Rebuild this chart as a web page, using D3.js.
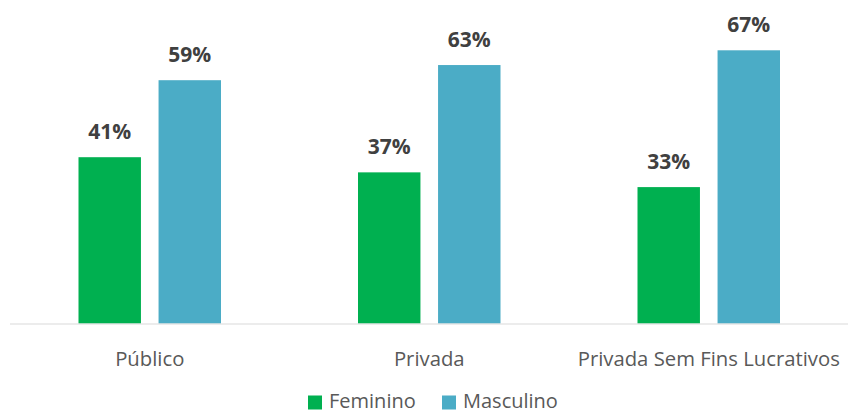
<!DOCTYPE html>
<html>
<head>
<meta charset="utf-8">
<script src="https://cdn.jsdelivr.net/npm/d3@7"></script>
<style>
  body { margin: 0; background: #fff; }
  svg { display: block; font-family: "Open Sans", sans-serif; }
</style>
</head>
<body>
<div id="chart"></div>
<script>
var categories = ["Público", "Privada", "Privada Sem Fins Lucrativos"];
var seriesNames = ["Feminino", "Masculino"];
var feminino = [40.6, 36.9, 33.3];
var masculino = [59.4, 63.1, 66.7];
var colors = ["#00B050", "#4BACC6"];

var width = 848, height = 416;
var baseline = 323.5;

var rows = categories.map(function(c, i) {
    return { cat: c, values: [
        { name: seriesNames[0], y: feminino[i] },
        { name: seriesNames[1], y: masculino[i] }
    ]};
});

var svg = d3.select("#chart").append("svg")
    .attr("width", width)
    .attr("height", height);

var x0 = d3.scaleBand().domain(categories).range([10, 848.5]);
var half = 71.25;
var x1 = d3.scaleBand().domain(seriesNames)
    .range([x0.bandwidth() / 2 - half, x0.bandwidth() / 2 + half])
    .paddingInner(0.22);
var y = d3.scaleLinear().domain([0, 80]).range([baseline, baseline - 80 * 4.096]);
var z = d3.scaleOrdinal().domain(seriesNames).range(colors);

var groups = svg.selectAll(".cat")
    .data(rows)
    .enter().append("g")
    .attr("class", "cat")
    .attr("transform", function(d) { return "translate(" + x0(d.cat) + ",0)"; });

groups.selectAll("rect")
    .data(function(d) { return d.values; })
    .enter().append("rect")
    .attr("x", function(d) { return x1(d.name); })
    .attr("width", x1.bandwidth())
    .attr("y", function(d) { return y(d.y); })
    .attr("height", function(d) { return y(0) - y(d.y); })
    .style("fill", function(d) { return z(d.name); });

groups.selectAll(".lbl")
    .data(function(d) { return d.values; })
    .enter().append("text")
    .attr("class", "lbl")
    .attr("x", function(d) { return x1(d.name) + x1.bandwidth() / 2; })
    .attr("y", function(d) { return y(d.y) - 18; })
    .attr("text-anchor", "middle")
    .style("font-size", "21px")
    .style("font-weight", "bold")
    .style("fill", "#404040")
    .text(function(d) { return Math.round(d.y) + "%"; });

// axis line + category labels
var xAxis = svg.append("g")
    .attr("transform", "translate(0," + baseline + ")")
    .call(d3.axisBottom(x0).tickSize(0).tickPadding(28));
xAxis.select(".domain").attr("stroke", "#d9d9d9").attr("d", "M10,0.5H848");
xAxis.selectAll("text")
    .style("font-size", "20.3px")
    .style("font-family", "'Open Sans', sans-serif")
    .style("fill", "#595959");

// legend
var legend = svg.append("g").attr("transform", "translate(308,395.5)");
var lx = [0, 134];
seriesNames.forEach(function(n, i) {
    var item = legend.append("g").attr("transform", "translate(" + lx[i] + ",0)");
    item.append("rect").attr("width", 14).attr("height", 14).style("fill", z(n));
    item.append("text")
        .attr("x", 21).attr("y", 12.5)
        .style("font-size", "20px")
        .style("fill", "#595959")
        .text(n);
});
</script>
</body>
</html>
